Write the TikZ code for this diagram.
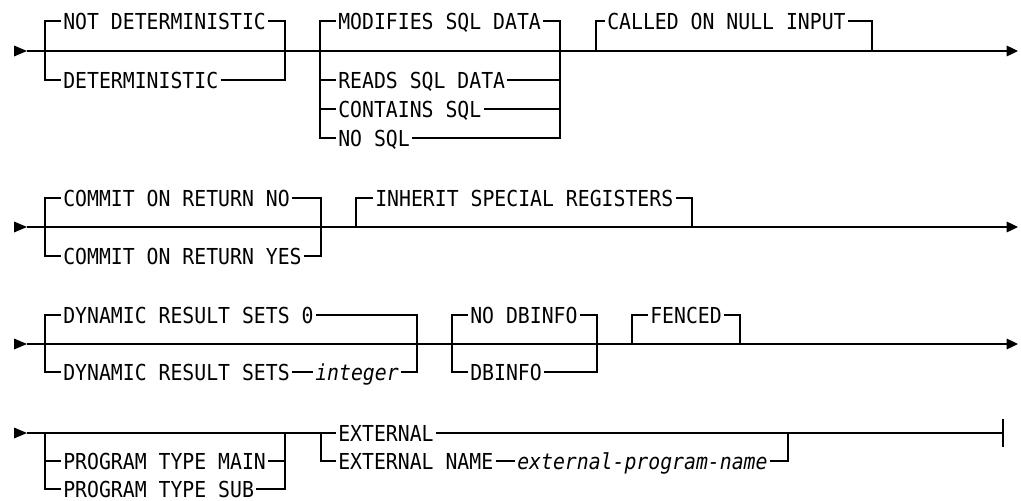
\documentclass[tikz,border=0pt]{standalone}
\usepackage{fontspec}
\newfontfamily\synfont[FakeStretch=0.9]{DejaVu Sans Mono}
\usetikzlibrary{arrows.meta,positioning,calc}

\begin{document}
\begin{tikzpicture}[
    x=0.75pt, y=-0.75pt,
    kw/.style={anchor=west,inner xsep=1.5pt,inner ysep=0pt,text height=12pt,text depth=0pt,
      font=\synfont\fontsize{16.5pt}{18pt}\selectfont},
    var/.style={kw,font=\synfont\itshape\fontsize{16.5pt}{18pt}\selectfont},
    rail/.style={line width=0.9pt},
    endarrow/.style={rail,-{Triangle[length=8.5pt,width=8pt]}},
  ]
  \useasboundingbox (0,0) rectangle (1021,500);

  % row 1
  \coordinate (s1) at (27,51);
  \coordinate (e1) at (1018,51);
  \fill (s1) -- ++(-13,-5.5) -- ++(0,11) -- cycle;
  \draw[endarrow] (s1) -- (e1);
  \coordinate (det l) at (45,51);
  \coordinate (det r) at (285,51);
  \node[kw] (notdet) at (61,21) {NOT DETERMINISTIC};
  \node[kw] (det) at (61,80) {DETERMINISTIC};
  \draw[rail] (det l) |- (notdet.west) (notdet.east) -| (det r);
  \draw[rail] (det l) |- (det.west) (det.east) -| (det r);
  \coordinate (sql l) at (320,51);
  \coordinate (sql r) at (560,51);
  \node[kw] (modsql) at (336,21) {MODIFIES SQL DATA};
  \node[kw] (readsql) at (336,80) {READS SQL DATA};
  \node[kw] (contsql) at (336,109) {CONTAINS SQL};
  \node[kw] (nosql) at (336,138) {NO SQL};
  \draw[rail] (sql l) |- (modsql.west) (modsql.east) -| (sql r);
  \draw[rail] (sql l) |- (nosql.west) (nosql.east) -| (sql r);
  \draw[rail] (sql l |- readsql.west) -- (readsql.west) (readsql.east) -- (readsql.east -| sql r);
  \draw[rail] (sql l |- contsql.west) -- (contsql.west) (contsql.east) -- (contsql.east -| sql r);
  \coordinate (null l) at (596,51);
  \coordinate (null r) at (872,51);
  \node[kw] (called) at (605,21) {CALLED ON NULL INPUT};
  \draw[rail] (null l) |- (called.west) (called.east) -| (null r);

  % row 2
  \coordinate (s2) at (27,227);
  \coordinate (e2) at (1018,227);
  \fill (s2) -- ++(-13,-5.5) -- ++(0,11) -- cycle;
  \draw[endarrow] (s2) -- (e2);
  \coordinate (ret l) at (45,227);
  \coordinate (ret r) at (321,227);
  \node[kw] (retno) at (61,198) {COMMIT ON RETURN NO};
  \node[kw] (retyes) at (61,256) {COMMIT ON RETURN YES};
  \draw[rail] (ret l) |- (retno.west) (retno.east) -| (ret r);
  \draw[rail] (ret l) |- (retyes.west) (retyes.east) -| (ret r);
  \coordinate (inh l) at (356,227);
  \coordinate (inh r) at (692,227);
  \node[kw] (inherit) at (373,198) {INHERIT SPECIAL REGISTERS};
  \draw[rail] (inh l) |- (inherit.west) (inherit.east) -| (inh r);

  % row 3
  \coordinate (s3) at (27,344);
  \coordinate (e3) at (1018,344);
  \fill (s3) -- ++(-13,-5.5) -- ++(0,11) -- cycle;
  \draw[endarrow] (s3) -- (e3);
  \coordinate (dyn l) at (45,344);
  \coordinate (dyn r) at (417,344);
  \node[kw] (dynzero) at (61,315) {DYNAMIC RESULT SETS 0};
  \node[kw] (dynsets) at (61,372) {DYNAMIC RESULT SETS};
  \node[var] (dynint) at (313,372) {integer};
  \draw[rail] (dyn l) |- (dynzero.west) (dynzero.east) -| (dyn r);
  \draw[rail] (dyn l) |- (dynsets.west) (dynsets.east) -- (dynint.west) (dynint.east) -| (dyn r);
  \coordinate (dbi l) at (452,344);
  \coordinate (dbi r) at (597,344);
  \node[kw] (nodbinfo) at (468,315) {NO DBINFO};
  \node[kw] (dbinfo) at (468,372) {DBINFO};
  \draw[rail] (dbi l) |- (nodbinfo.west) (nodbinfo.east) -| (dbi r);
  \draw[rail] (dbi l) |- (dbinfo.west) (dbinfo.east) -| (dbi r);
  \coordinate (fen l) at (632,344);
  \coordinate (fen r) at (740,344);
  \node[kw] (fenced) at (648,315) {FENCED};
  \draw[rail] (fen l) |- (fenced.west) (fenced.east) -| (fen r);

  % row 4
  \coordinate (s4) at (27,433);
  \coordinate (e4) at (1003,433);
  \fill (s4) -- ++(-13,-5.5) -- ++(0,11) -- cycle;
  \node[kw] (ext) at (336,433) {EXTERNAL};
  \draw[rail] (s4) -- (ext.west) (ext.east) -- (e4);
  \draw[rail] (e4) ++(0,-14) -- ++(0,28);
  \coordinate (prog l) at (45,433);
  \coordinate (prog r) at (285,433);
  \node[kw] (progmain) at (61,461) {PROGRAM TYPE MAIN};
  \node[kw] (progsub) at (61,489) {PROGRAM TYPE SUB};
  \draw[rail] (prog l) |- (progsub.west) (progsub.east) -| (prog r);
  \draw[rail] (prog l |- progmain.west) -- (progmain.west) (progmain.east) -- (progmain.east -| prog r);
  \coordinate (xn l) at (321,433);
  \coordinate (xn r) at (788,433);
  \node[kw] (extname) at (336,461) {EXTERNAL NAME};
  \node[var] (pgmname) at (515,461) {external-program-name};
  \draw[rail] (xn l) |- (extname.west) (extname.east) -- (pgmname.west) (pgmname.east) -| (xn r);
\end{tikzpicture}
\end{document}
